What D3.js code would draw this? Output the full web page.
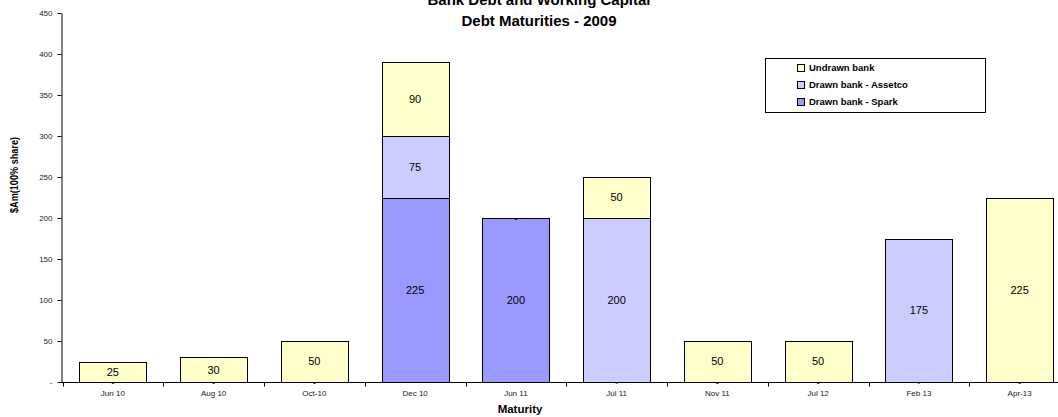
<!DOCTYPE html>
<html><head><meta charset="utf-8">
<script src="https://cdn.jsdelivr.net/npm/d3@7"></script>
<style>body{margin:0;background:#fff}svg{display:block}text{font-family:"Liberation Sans",Arial,sans-serif}</style>
</head><body>
<svg id="c" width="1058" height="417"></svg>
<script>
const categories = ["Jun 10","Aug 10","Oct-10","Dec 10","Jun 11","Jul 11","Nov 11","Jul 12","Feb 13","Apr-13"];
const spark   = [0,0,0,225,200,0,0,0,0,0];
const assetco = [0,0,0,75,0,200,0,0,175,0];
const undrawn = [25,30,50,90,0,50,50,50,0,225];
const seriesNames = ["Drawn bank - Spark","Drawn bank - Assetco","Undrawn bank"];
const yTicks = [0,50,100,150,200,250,300,350,400,450];
const colors = ["#9999FF","#CCCCFF","#FFFFCC"];

const svg = d3.select("#c");
const x = d3.scaleBand().domain(categories).range([62.5, 62.5 + 10*100.75]).paddingInner(1/3).paddingOuter(1/6);
const y = d3.scaleLinear().domain([0,450]).range([382,13]);

const rows = categories.map((c,i)=>({cat:c, s0:spark[i], s1:assetco[i], s2:undrawn[i]}));
const stack = d3.stack().keys(["s0","s1","s2"])(rows);

// bars
stack.forEach((layer,li)=>{
  svg.append("g").selectAll("rect").data(layer).join("rect")
    .filter(d=>d[1]-d[0]>0)
    .attr("x", d=>Math.round(x(d.data.cat))+0.5)
    .attr("y", d=>Math.round(y(d[1]))+0.5)
    .attr("width", Math.round(x.bandwidth()))
    .attr("height", d=>Math.round(y(d[0]))-Math.round(y(d[1])))
    .attr("fill", colors[li]).attr("stroke","#000").attr("stroke-width",1);
});

// data labels
stack.forEach((layer,li)=>{
  svg.append("g").selectAll("text").data(layer).join("text")
    .attr("x", d=>x(d.data.cat)+x.bandwidth()/2)
    .attr("y", d=>(y(d[0])+y(d[1]))/2)
    .attr("dy","0.36em")
    .attr("text-anchor","middle")
    .attr("font-size", d=>d[1]-d[0]>0?11:8)
    .attr("fill","#000")
    .text(d=>d[1]-d[0]>0?String(d[1]-d[0]):"-");
});

// y axis
const ya = svg.append("g").attr("transform","translate(61.5,0)")
  .call(d3.axisLeft(y).tickValues(yTicks).tickSize(4).tickSizeOuter(0).tickFormat(d=>d===0?"-":d));
ya.select(".domain").attr("stroke","#000");
ya.selectAll(".tick line").attr("stroke","#000");
ya.selectAll(".tick text").attr("font-size",8).attr("font-family","Liberation Sans, Arial, sans-serif").attr("fill","#222").attr("x",-9);

// x axis
const step = x.step();
const xa = svg.append("g").attr("transform","translate(0,382.5)");
xa.append("line").attr("x1",61).attr("x2",1058).attr("stroke","#000");
xa.selectAll("line.t").data(categories).join("line").attr("class","t")
  .attr("x1",d=>Math.round(x(d)-x.paddingOuter()*step)+0.5)
  .attr("x2",d=>Math.round(x(d)-x.paddingOuter()*step)+0.5)
  .attr("y1",0).attr("y2",4).attr("stroke","#000");
xa.selectAll("text").data(categories).join("text")
  .attr("x",d=>x(d)+x.bandwidth()/2).attr("y",13)
  .attr("text-anchor","middle").attr("font-size",8).attr("fill","#222").text(d=>d);

// titles
svg.append("text").attr("x",539).attr("y",5).attr("text-anchor","middle")
  .attr("font-size",15).attr("font-weight","bold").text("Bank Debt and Working Capital");
svg.append("text").attr("x",539).attr("y",26).attr("text-anchor","middle")
  .attr("font-size",15).attr("font-weight","bold").text("Debt Maturities - 2009");
svg.append("text").attr("x",520).attr("y",413).attr("text-anchor","middle")
  .attr("font-size",11.5).attr("font-weight","bold").text("Maturity");
svg.append("text").attr("transform","translate(18,175) rotate(-90)").attr("text-anchor","middle")
  .attr("font-size",10).attr("font-weight","bold").attr("textLength",76).attr("lengthAdjust","spacingAndGlyphs")
  .text("$Am(100% share)");

// legend
const lg = svg.append("g");
lg.append("rect").attr("x",765.5).attr("y",58.5).attr("width",220).attr("height",54)
  .attr("fill","#fff").attr("stroke","#000");
const legendOrder = [2,1,0];
legendOrder.forEach((si,i)=>{
  const cy = 68 + i*17;
  lg.append("rect").attr("x",797.5).attr("y",cy-3.5).attr("width",7).attr("height",7)
    .attr("fill",colors[si]).attr("stroke","#000");
  lg.append("text").attr("x",809).attr("y",cy).attr("dy","0.36em")
    .attr("font-size",9.5).attr("font-weight","bold").text(seriesNames[si]);
});
</script>
</body></html>
